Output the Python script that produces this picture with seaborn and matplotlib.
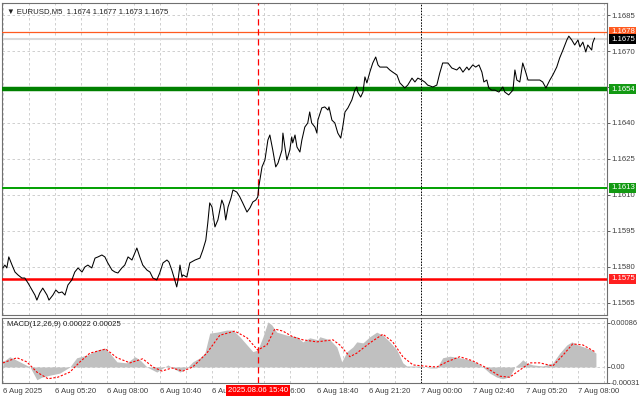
import matplotlib
matplotlib.use("Agg")
import matplotlib.pyplot as plt
import pandas as pd
import seaborn as sns

# price line: minutes after 6 Aug 02:40, close price
minutes = [0, 6, 12, 18, 28, 37, 46, 58, 67, 77, 89, 98, 104, 113, 122, 129, 135, 141, 153, 162,
           171, 181, 190, 199, 211, 220, 230, 242, 251, 260, 272, 282, 291, 303, 312, 321, 334, 343, 352, 364,
           373, 383, 395, 410, 419, 428, 441, 450, 459, 471, 480, 490, 502, 508, 517, 526, 532, 536, 542, 548,
           551, 563, 572, 588, 603, 612, 621, 627, 633, 640, 649, 658, 670, 676, 682, 689, 698, 704, 716, 725,
           734, 747, 756, 765, 774, 780, 783, 793, 802, 811, 817, 826, 835, 842, 854, 857, 863, 869, 878, 884,
           887, 894, 900, 909, 915, 924, 933, 939, 945, 955, 961, 964, 976, 985, 995, 998, 1007, 1016, 1025, 1034,
           1040, 1047, 1056, 1068, 1077, 1083, 1086, 1095, 1102, 1108, 1114, 1123, 1132, 1141, 1148, 1154, 1175, 1184, 1193, 1206,
           1215, 1230, 1239, 1252, 1261, 1270, 1282, 1291, 1300, 1316, 1328, 1337, 1346, 1362, 1374, 1389, 1398, 1408, 1420, 1426,
           1438, 1447, 1457, 1466, 1472, 1481, 1487, 1496, 1506, 1518, 1530, 1536, 1548, 1561, 1567, 1573, 1582, 1591, 1600, 1607,
           1622, 1643, 1652, 1662, 1674, 1683, 1695, 1704, 1714, 1726, 1732, 1741, 1750, 1760, 1766, 1775, 1784, 1790, 1802, 1805,
           1811]
prices = [1.15796, 1.15808, 1.15796, 1.15842, 1.15808, 1.15779, 1.15767, 1.15754, 1.15754, 1.15733, 1.15704, 1.15683, 1.15662, 1.15692, 1.15712, 1.15696, 1.15683, 1.15662, 1.15683, 1.15704,
          1.15692, 1.15696, 1.15683, 1.15725, 1.15746, 1.15779, 1.15796, 1.15779, 1.15800, 1.15808, 1.15796, 1.15837, 1.15842, 1.15850, 1.15842, 1.15817, 1.15787, 1.15779, 1.15775, 1.15796,
          1.15808, 1.15842, 1.15829, 1.15879, 1.15842, 1.15808, 1.15787, 1.15779, 1.15754, 1.15746, 1.15775, 1.15817, 1.15829, 1.15821, 1.15787, 1.15746, 1.15717, 1.15746, 1.15808, 1.15758,
          1.15767, 1.15758, 1.15817, 1.15829, 1.15837, 1.15871, 1.15912, 1.15983, 1.16067, 1.16050, 1.15967, 1.15996, 1.16079, 1.16058, 1.15996, 1.16050, 1.16087, 1.16121, 1.16112, 1.16092,
          1.16067, 1.16029, 1.16046, 1.16071, 1.16079, 1.16092, 1.16133, 1.16217, 1.16246, 1.16329, 1.16350, 1.16287, 1.16217, 1.16233, 1.16287, 1.16358, 1.16300, 1.16246, 1.16287, 1.16342,
          1.16317, 1.16350, 1.16300, 1.16279, 1.16329, 1.16383, 1.16400, 1.16446, 1.16400, 1.16383, 1.16358, 1.16412, 1.16463, 1.16467, 1.16454, 1.16467, 1.16412, 1.16400, 1.16358, 1.16337,
          1.16383, 1.16446, 1.16463, 1.16496, 1.16537, 1.16550, 1.16529, 1.16508, 1.16529, 1.16592, 1.16567, 1.16612, 1.16650, 1.16675, 1.16642, 1.16633, 1.16633, 1.16621, 1.16612, 1.16600,
          1.16567, 1.16546, 1.16558, 1.16587, 1.16571, 1.16587, 1.16579, 1.16571, 1.16558, 1.16550, 1.16558, 1.16608, 1.16650, 1.16650, 1.16629, 1.16621, 1.16633, 1.16612, 1.16633, 1.16621,
          1.16642, 1.16633, 1.16642, 1.16612, 1.16571, 1.16579, 1.16546, 1.16537, 1.16537, 1.16529, 1.16550, 1.16529, 1.16517, 1.16537, 1.16621, 1.16579, 1.16571, 1.16650, 1.16612, 1.16579,
          1.16579, 1.16579, 1.16571, 1.16546, 1.16579, 1.16600, 1.16633, 1.16671, 1.16704, 1.16746, 1.16762, 1.16746, 1.16725, 1.16746, 1.16717, 1.16737, 1.16696, 1.16725, 1.16704, 1.16733,
          1.16754]

# MACD main (histogram) and signal
macd_minutes = [0, 21, 52, 83, 104, 119, 144, 174, 205, 226, 257, 288, 312, 327, 349, 379, 404, 419, 441, 471,
                490, 505, 520, 542, 563, 581, 603, 618, 633, 655, 685, 704, 725, 747, 765, 780, 796, 811, 823, 838,
                869, 900, 918, 939, 964, 970, 1001, 1022, 1037, 1053, 1071, 1083, 1102, 1123, 1144, 1163, 1184, 1206, 1224, 1236,
                1276, 1307, 1328, 1346, 1368, 1398, 1429, 1450, 1469, 1490, 1512, 1530, 1551, 1567, 1582, 1591, 1603, 1622, 1652, 1683,
                1704, 1726, 1741, 1760, 1787, 1802, 1815]
macd_values = [0.0001, 0.0002, 0.0001, 0.0, -0.00025, -0.0002, -0.00016, -0.00012, 0.0, 0.00018, 0.00023, 0.00033, 0.00037, 0.00027, 0.0001, 0.00008, 0.0002, 0.00014, 0.0, -0.0001,
               -0.00002, 0.00004, -0.00002, -0.0001, -0.00002, 0.0001, 0.00018, 0.00027, 0.00066, 0.00068, 0.00072, 0.00072, 0.00059, 0.00043, 0.0003, 0.00033, 0.00059, 0.00088, 0.00082, 0.00068,
               0.00062, 0.00059, 0.00049, 0.00057, 0.00053, 0.00059, 0.00053, 0.00039, 0.0001, 0.0003, 0.00039, 0.00049, 0.00047, 0.00059, 0.00068, 0.00062, 0.00049, 0.00033, 0.00008, 0.00002,
               0.00002, -0.00002, -0.00002, 0.00018, 0.00021, 0.00018, 0.00014, 0.00008, 0.0, -0.00012, -0.0002, -0.00023, -0.00019, 0.0, 0.00008, 0.00014, 0.00008, 0.00004, 0.00002, 0.00008,
               0.00027, 0.00043, 0.00049, 0.00043, 0.00037, 0.00033, 0.00027]
signal_minutes = [0, 43, 73, 104, 138, 168, 205, 236, 266, 315, 349, 389, 428, 459, 487, 517, 551, 581, 624, 664,
                  710, 747, 780, 808, 832, 857, 887, 918, 961, 1010, 1031, 1062, 1083, 1123, 1163, 1193, 1224, 1255, 1285, 1328,
                  1359, 1398, 1438, 1481, 1521, 1551, 1582, 1613, 1643, 1683, 1714, 1744, 1775, 1811]
signal_values = [0.00008, 0.00018, 0.0001, -0.0001, -0.00023, -0.0002, -0.0001, 0.0001, 0.00027, 0.00035, 0.00018, 0.00008, 0.00016, 0.0, -0.00008, -0.00002, -0.00008, 0.0, 0.00027, 0.00062,
                 0.0007, 0.00057, 0.00033, 0.00043, 0.00074, 0.0007, 0.00059, 0.00053, 0.00049, 0.00053, 0.00043, 0.0002, 0.00027, 0.00047, 0.00064, 0.00049, 0.0002, 0.00004, 0.00002, 0.0,
                 0.0001, 0.0002, 0.00012, -0.00002, -0.00018, -0.0002, -0.00006, 0.00008, 0.00008, 0.00002, 0.00023, 0.00045, 0.00043, 0.0003]

time_ticks = [0, 160, 320, 480, 640, 800, 960, 1120, 1280, 1440, 1600, 1760]
time_labels = ["6 Aug 2025", "6 Aug 05:20", "6 Aug 08:00", "6 Aug 10:40", "6 Aug 13:20", "6 Aug 16:00",
               "6 Aug 18:40", "6 Aug 21:20", "7 Aug 00:00", "7 Aug 02:40", "7 Aug 05:20", "7 Aug 08:00"]
price_ticks = [1.1565, 1.1580, 1.1595, 1.1610, 1.1625, 1.1640, 1.1655, 1.1670, 1.1685]
price_labels = ["1.1565", "1.1580", "1.1595", "1.1610", "1.1625", "1.1640", "", "1.1670", "1.1685"]
macd_ticks = [-0.00031, 0.0, 0.00086]
macd_labels = ["-0.00031", "0.00", "0.00086"]

levels = [1.1678, 1.1654, 1.1613, 1.1575]
level_colors = ["#ff5a1f", "#008000", "#00a000", "#ff0000"]
level_widths = [0.9, 3.2, 1.4, 1.8]
bid = 1.1675
event_minute = 780
day_start = 1280

sns.set_style("white")
plt.rcParams["font.family"] = ["Liberation Sans", "DejaVu Sans"]
plt.rcParams["font.size"] = 5.6

df = pd.DataFrame({"t": minutes, "price": prices})
macd_df = pd.DataFrame({"t": macd_minutes, "macd": macd_values})
sig_df = pd.DataFrame({"t": signal_minutes, "signal": signal_values})

fig = plt.figure(figsize=(6.4, 4.01), dpi=100)
ax = fig.add_axes([0.003, 0.2145, 0.945, 0.778])
ax2 = fig.add_axes([0.003, 0.045, 0.945, 0.162])

grid_ticks = list(range(0, 1841, 80))
grid_kw = dict(color="#c8c8c8", linestyle=(0, (3, 3)), linewidth=0.6)

for a in (ax, ax2):
    a.set_xlim(-3, 1848)
    a.set_xticks(grid_ticks)
    a.grid(True, axis="both", **grid_kw)
    a.yaxis.tick_right()
    a.tick_params(axis="both", direction="out", length=2, width=0.6, colors="#404040",
                  labelsize=5.6, pad=1.5)
    for s in a.spines.values():
        s.set_color("#707070")
        s.set_linewidth(0.8)
    a.axvline(event_minute, color="#ff0000", linestyle=(0, (5, 3)), linewidth=0.9, zorder=4)
    a.axvline(day_start, color="#000000", linestyle=(0, (1.5, 1.5)), linewidth=0.7, zorder=4)

# main price pane
ax.set_ylim(1.1560, 1.1690)
ax.set_yticks(price_ticks)
ax.set_yticklabels(price_labels)
ax.set_xticklabels([])
ax.axhline(bid, color="#d9d9d9", linewidth=1.5, zorder=2)
for lv, c, w in zip(levels, level_colors, level_widths):
    ax.axhline(lv, color=c, linewidth=w, zorder=3)
sns.lineplot(data=df, x="t", y="price", ax=ax, color="black", linewidth=0.75, zorder=5)
ax.set_xlabel("")
ax.set_ylabel("")

tag_values = [1.1678, bid, 1.1654, 1.1613, 1.1575]
tag_colors = ["#ff5a1f", "#000000", "#139a13", "#139a13", "#ff2020"]
for v, c in zip(tag_values, tag_colors):
    ax.annotate(f"{v:.4f}", xy=(1, v), xycoords=("axes fraction", "data"), xytext=(3, 0),
                textcoords="offset points", ha="left", va="center", color="white", fontsize=5.6,
                bbox=dict(boxstyle="square,pad=0.2", fc=c, ec="none"), annotation_clip=False, zorder=10)

ax.text(0.008, 0.985, "\u25bc EURUSD,M5  1.1674 1.1677 1.1673 1.1675", transform=ax.transAxes,
        ha="left", va="top", fontsize=5.6, color="#202020")

# MACD pane
ax2.set_ylim(-0.000312, 0.000956)
ax2.set_yticks(macd_ticks)
ax2.set_yticklabels(macd_labels)
ax2.tick_params(axis="y", pad=0.8, labelsize=5.4)
ax2.fill_between(macd_df["t"], macd_df["macd"], 0, color="#c0c0c0", linewidth=0, zorder=2)
sns.lineplot(data=sig_df, x="t", y="signal", ax=ax2, color="#ff0000", linewidth=0.8,
             linestyle=(0, (2, 1.5)), zorder=5)
ax2.set_xlabel("")
ax2.set_ylabel("")
tick_labels = ["" if t not in time_ticks else time_labels[time_ticks.index(t)] for t in grid_ticks]
ax2.set_xticklabels(tick_labels, ha="left")
ax2.text(0.008, 0.95, "MACD(12,26,9) 0.00022 0.00025", transform=ax2.transAxes,
         ha="left", va="top", fontsize=5.6, color="#202020")
ax2.annotate("2025.08.06 15:40", xy=(event_minute, 0), xycoords=("data", "axes fraction"),
             xytext=(0, -2.6), textcoords="offset points", ha="center", va="top", color="white",
             fontsize=5.6, bbox=dict(boxstyle="square,pad=0.25", fc="#ff0000", ec="none"),
             annotation_clip=False, zorder=10)

fig.savefig("out.png", dpi=100)
